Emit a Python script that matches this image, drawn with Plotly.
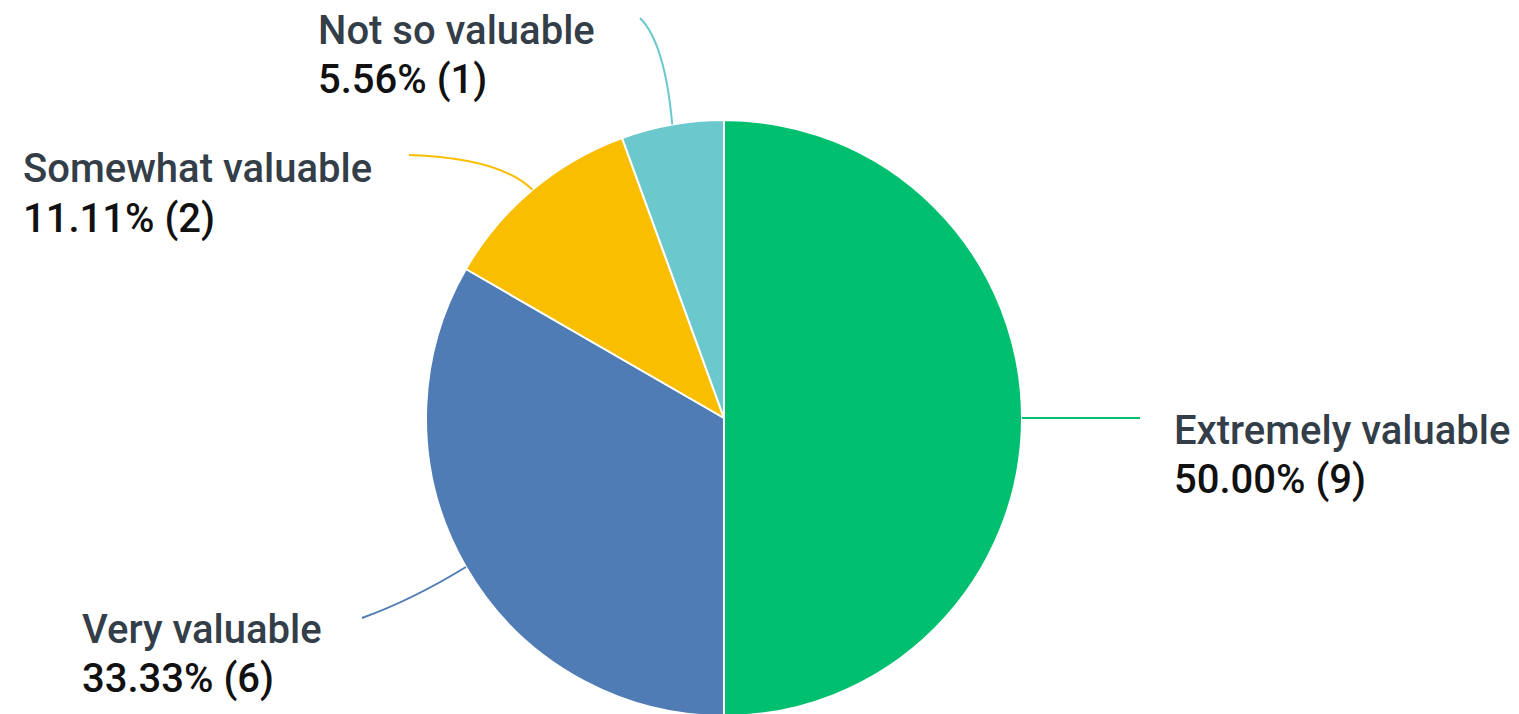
import math
import plotly.graph_objects as go

# ---- data ----
categories = ["Extremely valuable", "Very valuable", "Somewhat valuable", "Not so valuable"]
counts = [9, 6, 2, 1]
percent_labels = ["50.00%", "33.33%", "11.11%", "5.56%"]
colors = ["#00BF6F", "#507CB6", "#F9BE00", "#6BC8CD"]

W, H = 1519, 714
OFF = 8  # page body margin offset
CX, CY, R = 724 - OFF, 418 - OFF, 298  # pie center / radius in figure pixels

def px(x):
    return (x - OFF) / W

def py(y):
    return 1 - (y - OFF) / H

def fx(x):
    return x / W

def fy(y):
    return 1 - y / H

# label layout (screen pixel positions: left x, name-line y, pct-line y)
label_pos = {
    "Extremely valuable": (1172, 430, 479),
    "Very valuable": (80, 629, 678),
    "Somewhat valuable": (21, 168, 218),
    "Not so valuable": (316, 30, 80),
}
# leader line end point and bezier control (screen pixels)
leader_geom = {
    "Extremely valuable": ((1140, 418), None),
    "Very valuable": ((362, 618), (412, 600)),
    "Somewhat valuable": ((409, 155), (500, 158)),
    "Not so valuable": ((640, 18), (665, 43)),
}

fig = go.Figure()
fig.add_trace(go.Pie(
    labels=categories,
    values=counts,
    sort=False,
    direction="clockwise",
    rotation=0,
    textinfo="none",
    hoverinfo="label+percent+value",
    marker=dict(colors=colors, line=dict(color="white", width=2)),
    domain=dict(x=[fx(CX - R), fx(CX + R)], y=[fy(CY + R), fy(CY - R)]),
    showlegend=False,
))

total = sum(counts)
cum = 0
shapes = []
annotations = []
for cat, cnt, pct, col in zip(categories, counts, percent_labels, colors):
    mid = (cum + cnt / 2) / total * 2 * math.pi
    cum += cnt
    sx = CX + R * math.sin(mid)
    sy = CY - R * math.cos(mid)
    (ex, ey), ctrl = leader_geom[cat]
    if ctrl is None:
        path = f"M {fx(sx)} {fy(sy)} L {px(ex)} {py(ey)}"
    else:
        path = f"M {fx(sx)} {fy(sy)} Q {px(ctrl[0])} {py(ctrl[1])} {px(ex)} {py(ey)}"
    shapes.append(dict(type="path", xref="paper", yref="paper", path=path,
                       line=dict(color=col, width=2)))
    lx, ny, pyy = label_pos[cat]
    annotations.append(dict(x=px(lx), y=py(ny), xref="paper", yref="paper",
                            text=cat, showarrow=False, xanchor="left", yanchor="middle",
                            font=dict(family="Roboto", size=40, color="#333E48", weight=500)))
    annotations.append(dict(x=px(lx), y=py(pyy), xref="paper", yref="paper",
                            text=f"{pct} ({cnt})", showarrow=False, xanchor="left", yanchor="middle",
                            font=dict(family="Roboto", size=40, color="#111111", weight=500)))

fig.update_layout(
    width=W, height=H,
    margin=dict(l=0, r=0, t=0, b=0),
    paper_bgcolor="white",
    plot_bgcolor="white",
    shapes=shapes,
    annotations=annotations,
)

fig.write_html("out.html")
